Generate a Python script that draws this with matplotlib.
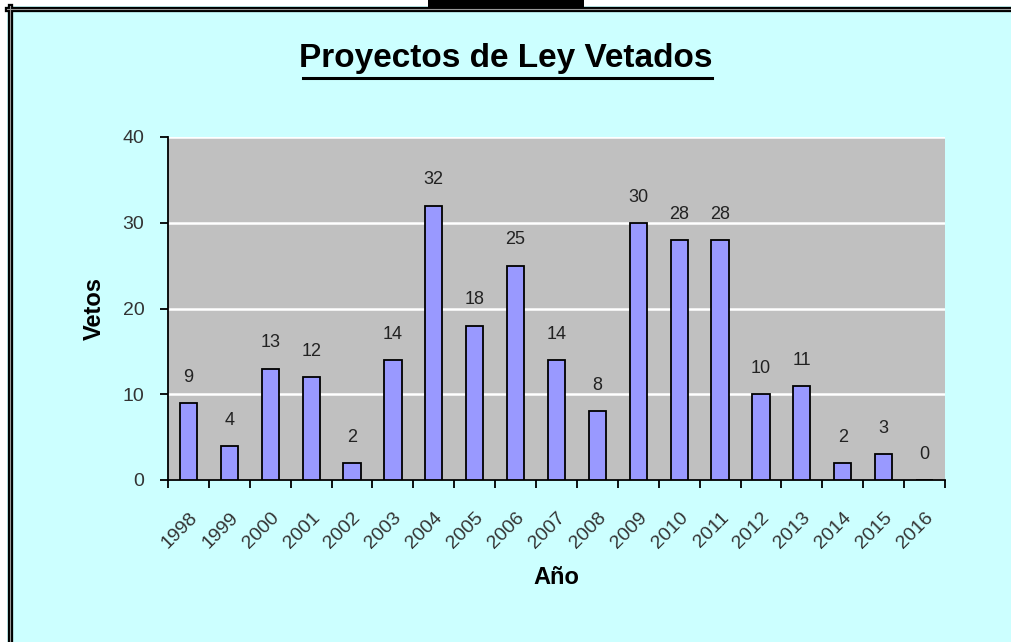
import matplotlib
matplotlib.use('Agg')
import matplotlib.pyplot as plt
from matplotlib.patches import Rectangle
from matplotlib.transforms import ScaledTranslation

anios = ['1998', '1999', '2000', '2001', '2002', '2003', '2004', '2005', '2006', '2007',
         '2008', '2009', '2010', '2011', '2012', '2013', '2014', '2015', '2016']
vetos = [9, 4, 13, 12, 2, 14, 32, 18, 25, 14, 8, 30, 28, 28, 10, 11, 2, 3, 0]
marcasY = [0, 10, 20, 30, 40]

plt.rcParams['font.family'] = ['Liberation Sans', 'DejaVu Sans']

W, H = 1011, 642
fig = plt.figure(figsize=(W / 100, H / 100), dpi=100)
fig.patch.set_facecolor('white')

# Fondo celeste
fig.patches.append(Rectangle((7 / W, 0), 1, 1 - 6 / H, transform=fig.transFigure,
                             facecolor='#CCFFFF', edgecolor='none', zorder=-2))
# Marco doble arriba y a la izquierda
for color, grosor in [('black', 3.8), ('#999999', 0.8)]:
    fig.add_artist(plt.Line2D([7 / W, 1], [1 - 8.5 / H, 1 - 8.5 / H], color=color,
                              linewidth=grosor, transform=fig.transFigure, zorder=-1))
    fig.add_artist(plt.Line2D([9.5 / W, 9.5 / W], [0, 1 - 6 / H], color=color,
                              linewidth=grosor, transform=fig.transFigure, zorder=-1))
fig.patches.append(Rectangle((428 / W, 1 - 7 / H), 156 / W, 7 / H, transform=fig.transFigure,
                             facecolor='black', edgecolor='none', zorder=-1))

ax = fig.add_axes([168 / W, 1 - 480 / H, 777 / W, 343 / H])
ax.set_facecolor('#C0C0C0')

x = list(range(len(anios)))
ax.bar(x, vetos, width=0.42, color='#9999FF', edgecolor='black', linewidth=1.3, zorder=3)
for xi, v in zip(x, vetos):
    ax.text(xi, v + 2, str(v), ha='center', va='bottom', fontsize=13, color='#222222')

ax.set_xlim(-0.5, len(anios) - 0.5)
ax.set_ylim(0, 40)
ax.set_yticks(marcasY)
ax.set_yticklabels([str(m) for m in marcasY], fontsize=14, color='#333333')
ax.yaxis.grid(True, color='white', linewidth=1.8, zorder=1)
ax.set_axisbelow(True)

# Marcas del eje x entre categorias
ax.set_xticks([i - 0.5 for i in range(len(anios) + 1)])
ax.set_xticklabels([])
ax.set_xticks(x, minor=True)
ax.set_xticklabels(anios, minor=True, rotation=45, ha='right', rotation_mode='anchor',
                   fontsize=14, color='#333333')
desplazar = ScaledTranslation(-4 / 72, 0, fig.dpi_scale_trans)
for etiqueta in ax.get_xticklabels(minor=True):
    etiqueta.set_transform(etiqueta.get_transform() + desplazar)
ax.tick_params(axis='x', which='minor', length=0, pad=21)
ax.tick_params(axis='x', which='major', length=6, width=1.3, direction='out')
ax.tick_params(axis='y', length=6, width=1.3, direction='out', pad=11)

for lado in ['top', 'right']:
    ax.spines[lado].set_visible(False)
ax.spines['left'].set_linewidth(1.3)
ax.spines['bottom'].set_linewidth(1.3)

ax.set_ylabel('Vetos', fontsize=17, fontweight='bold', labelpad=12)
ax.set_xlabel('Año', fontsize=17, fontweight='bold', labelpad=10)

fig.text(0.5, 1 - 58 / H, 'Proyectos de Ley Vetados', ha='center', va='center',
         fontsize=24, fontweight='bold')
fig.add_artist(plt.Line2D([303 / W, 712 / W], [1 - 78 / H, 1 - 78 / H],
                          color='black', linewidth=2.2, transform=fig.transFigure))

fig.savefig('out.png', dpi=100, facecolor=fig.get_facecolor())
